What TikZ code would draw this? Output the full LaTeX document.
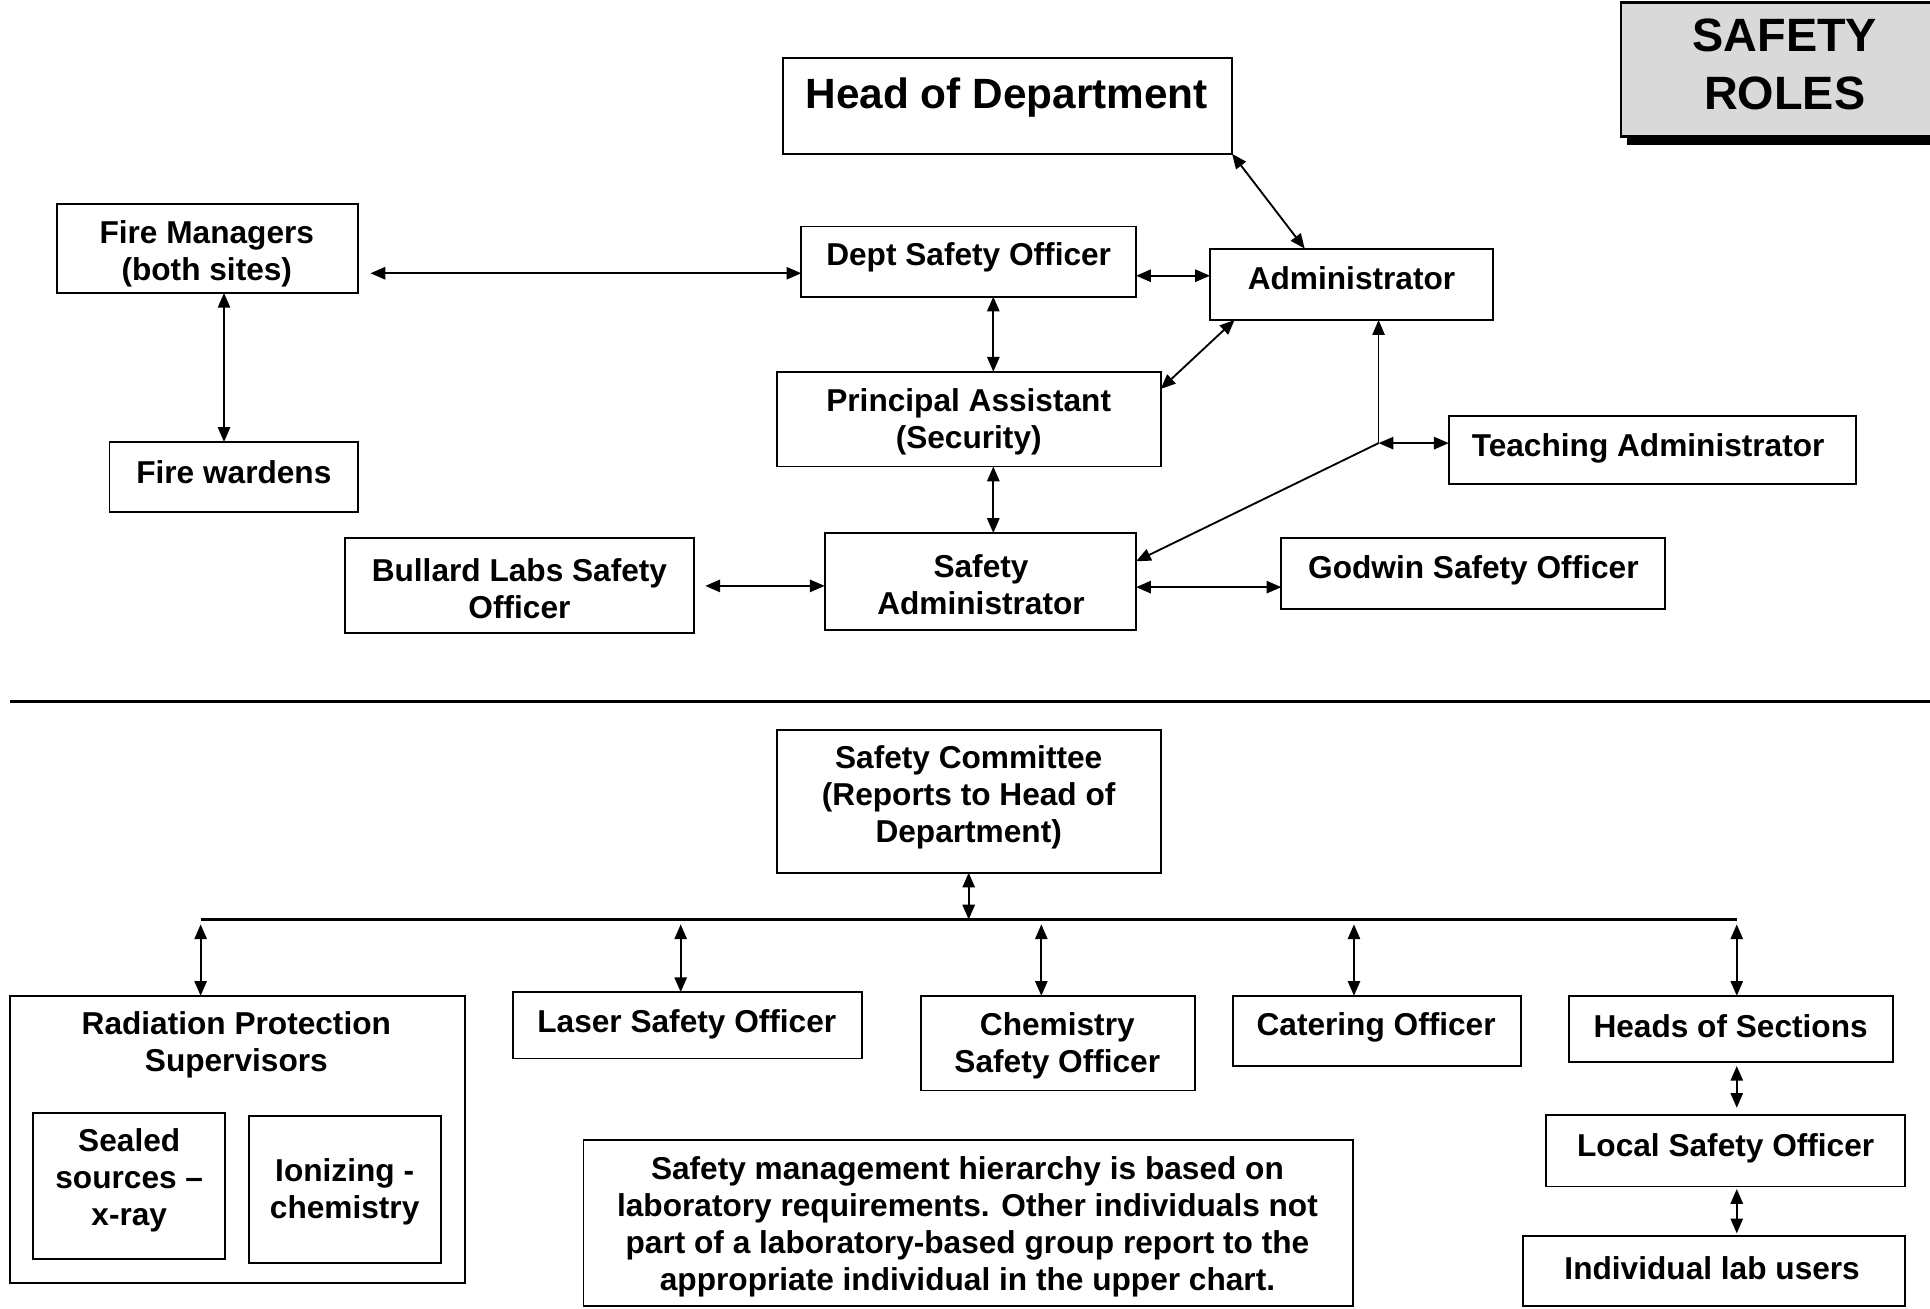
\documentclass[tikz,border=0pt]{standalone}
\usepackage{fontspec}
\setmainfont{Liberation Sans}
\usetikzlibrary{arrows.meta,fit}
\definecolor{boxgray}{RGB}{217,217,217}
\begin{document}
\begin{tikzpicture}[x=1pt,y=-1pt,
  box/.style={draw, line width=1.5pt, inner sep=0pt, outer sep=0pt, rectangle},
  txt/.style={font=\bfseries\fontsize{25.7}{30}\selectfont, align=center, inner sep=0pt},
  conn/.style={line width=1.5pt, {Triangle[length=12pt,width=10pt]}-{Triangle[length=12pt,width=10pt]}},
  oneway/.style={line width=1.5pt, -{Triangle[length=12pt,width=10pt]}}]
\useasboundingbox (0,0) rectangle (1568,1063);
\clip (0,0) rectangle (1568,1063);

% title box
\fill[black] (1322,7) rectangle (1590,118);
\node[box, line width=2.2pt, fill=boxgray, fit={(1317,2) (1585,111)}] (title) {};
\node[txt, font=\bfseries\fontsize{38}{47}\selectfont] (ttitle) at (1450,52) {SAFETY\\ROLES};

% upper chart boxes
\node[box, fit={(636,47) (1001,125)}] (hod) {};
\node[txt, font=\bfseries\fontsize{34.4}{40}\selectfont] (thod) at (818,79) {Head of Department};

\node[box, fit={(46,166) (291,238)}] (fm) {};
\node[txt] (tfm) at (168,206) {Fire Managers\\(both sites)};

\node[box, fit={(651,184) (923,241)}] (dso) {};
\node[txt] (tdso) at (787,209) {Dept Safety Officer};

\node[box, fit={(983,202) (1213,260)}] (adm) {};
\node[txt] (tadm) at (1098,226) {Administrator};

\node[box, fit={(631,302) (943,379)}] (pa) {};
\node[txt] (tpa) at (787,343) {Principal Assistant\\(Security)};

\node[box, fit={(89,359) (291,416)}] (fw) {};
\node[txt] (tfw) at (190,384) {Fire wardens};

\node[box, fit={(1177,338) (1508,393)}] (ta) {};
\node[txt] (tta) at (1339,364) {Teaching Administrator};

\node[box, fit={(280,437) (564,514)}] (bl) {};
\node[txt] (tbl) at (422,478) {Bullard Labs Safety\\Officer};

\node[box, fit={(670,433) (923,512)}] (sa) {};
\node[txt] (tsa) at (797,475) {Safety\\Administrator};

\node[box, fit={(1041,437) (1353,495)}] (gw) {};
\node[txt] (tgw) at (1197,463) {Godwin Safety Officer};

% upper connectors
\draw[conn] ([xshift=10pt]fm.east |- 0,222) -- (dso.west |- 0,222);
\draw[conn] (fm.south -| 182,0) -- (fw.north -| 182,0);
\draw[conn] (dso.east |- 0,224) -- (adm.west |- 0,224);
\draw[conn] (hod.south east) -- (adm.north -| 1060,0);
\draw[conn] (dso.south -| 807,0) -- (pa.north -| 807,0);
\draw[conn] (adm.south -| 1003,0) -- (pa.east |- 0,316);
\draw[conn] (pa.south -| 807,0) -- (sa.north -| 807,0);
\coordinate (J) at (1120,360);
\draw[oneway, line width=1pt] (J) -- (adm.south -| J);
\draw[conn] (J) -- (ta.west |- J);
\draw[oneway] (J) -- (sa.east |- 0,456);
\draw[conn] ([xshift=9pt]bl.east |- 0,476) -- (sa.west |- 0,476);
\draw[conn] (sa.east |- 0,477) -- (gw.west |- 0,477);

% divider
\draw[line width=1.8pt] (8,570) -- (1575,570);

% lower chart
\node[box, fit={(631,593) (943,709)}] (sc) {};
\node[txt] (tsc) at (787,648) {Safety Committee\\(Reports to Head of\\Department)};

\coordinate (busL) at (163,747);
\coordinate (busR) at (1411,747);
\coordinate (busM) at (787,747);
\draw[line width=1.8pt] (busL) -- (busR);
\draw[conn] (sc.south) -- (busM);

\node[box, fit={(8,809) (378,1042)}] (rps) {};
\node[txt] (trps) at (192,849) {Radiation Protection\\Supervisors};
\node[box, fit={(27,904) (183,1023)}] (ss) {};
\node[txt] (tss) at (105,959) {Sealed\\sources --\\x-ray};
\node[box, fit={(202,907) (358,1026)}] (ion) {};
\node[txt] (tion) at (280,968) {Ionizing -\\chemistry};

\node[box, fit={(417,806) (700,860)}] (laser) {};
\node[txt] (tlaser) at (558,832) {Laser Safety Officer};

\node[box, fit={(748,809) (971,886)}] (chem) {};
\node[txt] (tchem) at (859,850) {Chemistry\\Safety Officer};

\node[box, fit={(1002,809) (1236,866)}] (cat) {};
\node[txt] (tcat) at (1118,835) {Catering Officer};

\node[box, fit={(1275,809) (1538,863)}] (hs) {};
\node[txt] (ths) at (1406,834) {Heads of Sections};

\node[box, fit={(1256,906) (1548,964)}] (lso) {};
\node[txt] (tlso) at (1402,933) {Local Safety Officer};

\node[box, fit={(1237,1004) (1548,1061)}] (iu) {};
\node[txt] (tiu) at (1391,1030) {Individual lab users};

\node[box, fit={(474,926) (1099,1061)}] (note) {};
\node[txt] (tnote) at (786,997) {Safety management hierarchy is based on\\laboratory requirements. Other individuals not\\part of a laboratory-based group report to the\\appropriate individual in the upper chart.};

\coordinate (d1) at (163,751);
\coordinate (d2) at (553,751);
\coordinate (d3) at (846,751);
\coordinate (d4) at (1100,751);
\coordinate (d5) at (1411,751);
\draw[conn] (d1) -- (rps.north -| d1);
\draw[conn] (d2) -- (laser.north -| d2);
\draw[conn] (d3) -- (chem.north -| d3);
\draw[conn] (d4) -- (cat.north -| d4);
\draw[conn] (d5) -- (hs.north -| d5);
\draw[conn] ([yshift=-3pt]hs.south -| 1411,0) -- ([yshift=6pt]lso.north -| 1411,0);
\draw[conn] ([yshift=-2pt]lso.south -| 1411,0) -- ([yshift=2pt]iu.north -| 1411,0);
\end{tikzpicture}
\end{document}
